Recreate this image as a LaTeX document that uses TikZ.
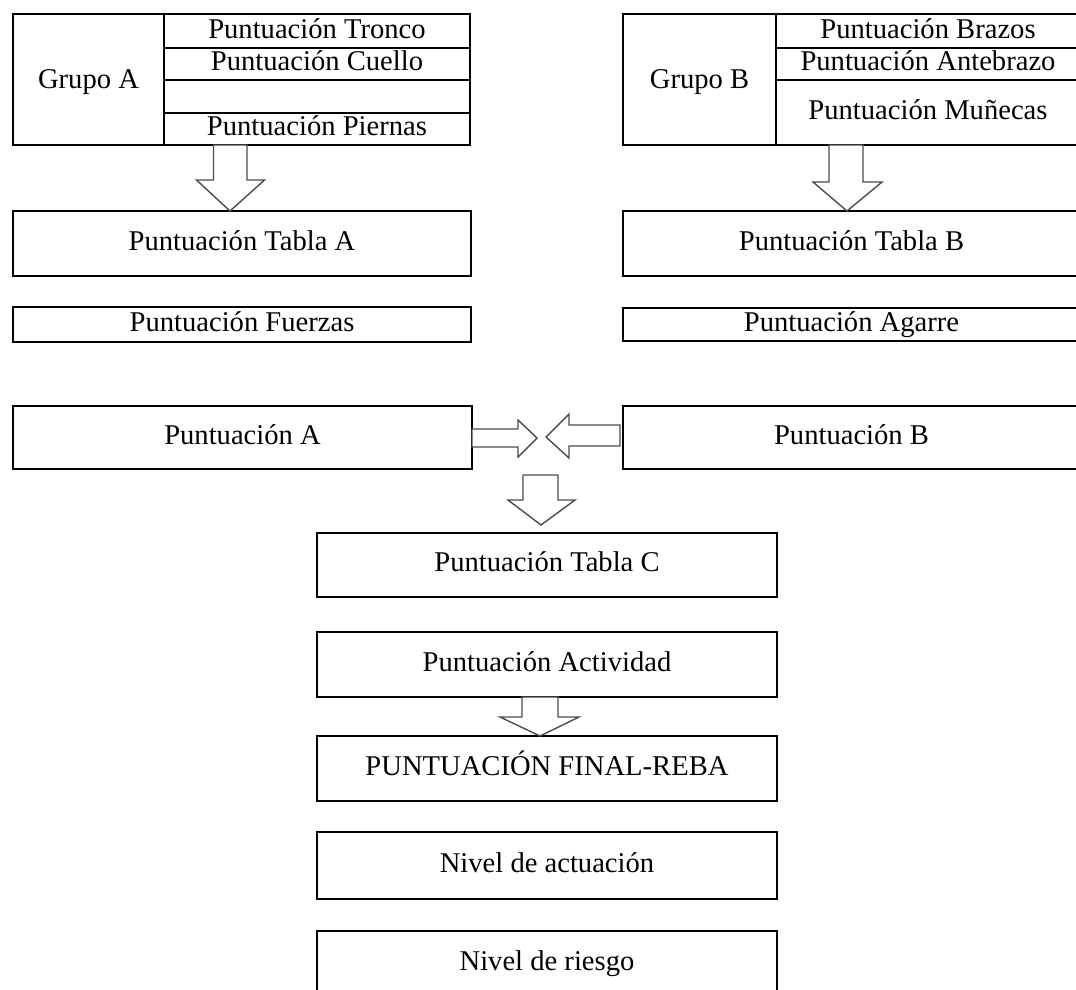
\documentclass[tikz,border=0pt]{standalone}
\usepackage{fontspec}
\setmainfont{Liberation Serif}
\begin{document}
\begin{tikzpicture}[x=1pt,y=-1pt,
  box/.style={draw, line width=1.3pt, inner sep=0pt, outer sep=0pt, fill=white},
  txt/.style={font=\fontsize{28.6}{34}\selectfont, text height=19.5pt, text depth=6.3pt, inner sep=0pt},
  barrow/.style={draw=black!70, line width=1.4pt, fill=white, line join=miter},
  thickedge/.style={line width=2.6pt}]
\useasboundingbox (0,0) rectangle (1076,990);
\clip (0,0) rectangle (1076,990);

% Group A
\node[box, minimum width=457pt, minimum height=131pt] (gA) at (241.5,79.5) {};
\draw[thickedge] (164,0 |- gA.north) -- (164,0 |- gA.south);
\draw[thickedge] (gA.north east) -- (gA.south east);
\draw[line width=1.3pt] (164,48) -- (gA.east |- 0,48);
\draw[line width=1.3pt] (164,80) -- (gA.east |- 0,80);
\draw[line width=1.3pt] (164,113) -- (gA.east |- 0,113);
\node[txt] (grA) at (88.5,82) {Grupo A};
\node[txt] (tronco) at (317,32) {Puntuación Tronco};
\node[txt] (cuello) at (317,64) {Puntuación Cuello};
\node[txt] (piernas) at (317,129) {Puntuación Piernas};

% Group B
\node[box, minimum width=457pt, minimum height=131pt] (gB) at (851.5,79.5) {};
\draw[line width=1.3pt] (776,0 |- gB.north) -- (776,0 |- gB.south);
\draw[line width=1.3pt] (776,48) -- (gB.east |- 0,48);
\draw[line width=1.3pt] (776,80) -- (gB.east |- 0,80);
\node[txt] (grB) at (699.5,82) {Grupo B};
\node[txt] (brazos) at (928,32) {Puntuación Brazos};
\node[txt] (antebrazo) at (928,64) {Puntuación Antebrazo};
\node[txt] (munecas) at (928,113) {Puntuación Muñecas};

% Tables A/B
\node[box, txt, minimum width=458pt, minimum height=65pt] (tA) at (242,243.5) {Puntuación Tabla A};
\draw[thickedge] (tA.north east) -- (tA.south east);
\node[box, txt, minimum width=457pt, minimum height=65pt] (tB) at (851.5,243.5) {Puntuación Tabla B};

\node[box, txt, minimum width=458pt, minimum height=35pt] (fA) at (242,324.5) {Puntuación Fuerzas};
\draw[thickedge] (fA.north east) -- (fA.south east);
\node[box, txt, minimum width=457pt, minimum height=33pt] (fB) at (851.5,324.5) {Puntuación Agarre};

\node[box, txt, minimum width=459pt, minimum height=63pt] (pA) at (242.5,437.5) {Puntuación A};
\node[box, txt, minimum width=457pt, minimum height=63pt] (pB) at (851.5,437.5) {Puntuación B};

% Central column
\node[box, txt, minimum width=460pt, minimum height=64pt] (tC) at (547,565) {Puntuación Tabla C};
\node[box, txt, minimum width=460pt, minimum height=65pt] (act) at (547,664.5) {Puntuación Actividad};
\node[box, txt, minimum width=460pt, minimum height=65pt] (fin) at (547,768.5) {PUNTUACIÓN FINAL-REBA};
\node[box, txt, minimum width=460pt, minimum height=67pt] (nA) at (547,865.5) {Nivel de actuación};
\node[box, txt, minimum width=460pt, minimum height=65pt] (nR) at (547,963.5) {Nivel de riesgo};

% Block arrows
\draw[barrow] (213.5,0 |- gA.south) -- (213.5,180) -- (196.5,180) -- (230,0 |- tA.north)
  -- (264.5,180) -- (247,180) -- (247,0 |- gA.south) -- cycle;
\draw[barrow] (829,0 |- gB.south) -- (829,182) -- (813,182) -- (847,0 |- tB.north)
  -- (882,182) -- (863,182) -- (863,0 |- gB.south) -- cycle;
\draw[barrow] (pA.east |- 0,429) -- (518,429) -- (518,420) -- (537,438) -- (518,457)
  -- (518,447) -- (pA.east |- 0,447) -- cycle;
\draw[barrow] (620,425) -- (569,425) -- (569,414) -- (546,437) -- (569,458)
  -- (569,446) -- (620,446) -- cycle;
\draw[barrow] (523,475) -- (523,500) -- (508,500) -- (541,525) -- (575,500)
  -- (558,500) -- (558,475) -- cycle;
\draw[barrow] (522,0 |- act.south) -- (522,717) -- (500,717) -- (540,0 |- fin.north)
  -- (579,717) -- (558,717) -- (558,0 |- act.south) -- cycle;
\end{tikzpicture}
\end{document}
